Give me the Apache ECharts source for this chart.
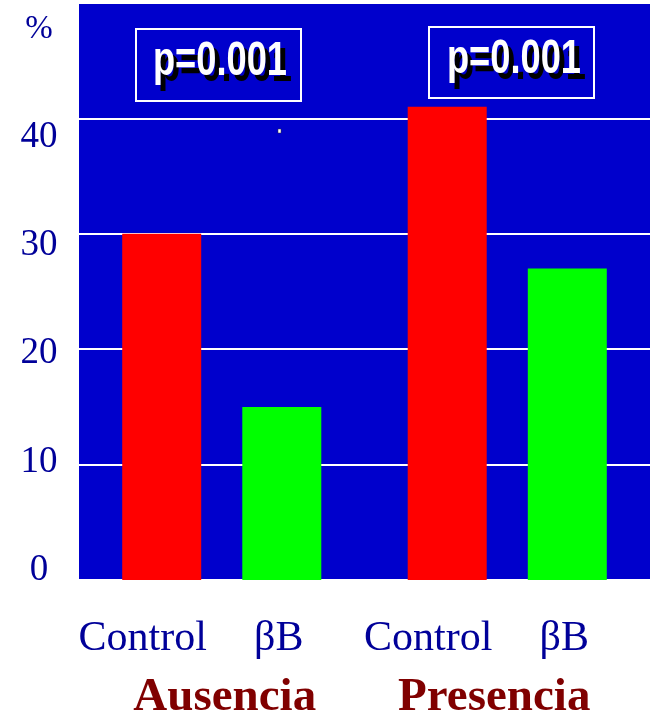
<!DOCTYPE html>
<html>
<head>
<meta charset="utf-8">
<style>
  html, body { margin: 0; padding: 0; background: #ffffff; overflow: hidden; }
  #chart { width: 650px; height: 715px; }
</style>
<script src="https://cdn.jsdelivr.net/npm/echarts@6/dist/echarts.min.js"></script>
</head>
<body>
<div id="chart"></div>
<script>
// Groups along the x axis and the two bars drawn inside each group
const groups = ['Ausencia', 'Presencia'];
const seriesNames = ['Control', 'βB'];
const controlValues = [30, 41];
const betaBlockerValues = [15, 27];
// Tick values of the value axis (the top one is shown as the unit sign)
const yTicks = [0, 10, 20, 30, 40, 50];
const unitLabel = '%';
// Significance annotations, one per group
const pLabels = ['p=0.001', 'p=0.001'];

const SERIF = '"Liberation Serif", "Times New Roman", Times, serif';
const SANS = '"Liberation Sans", Arial, Helvetica, sans-serif';
const LABEL_BLUE = '#000099';

const chart = echarts.init(document.getElementById('chart'), null, {
  renderer: 'canvas', width: 650, height: 715
});

const yMax = yTicks[yTicks.length - 1];
const yStep = yTicks[1] - yTicks[0];

// Framed annotation: white outline box, condensed bold white text with a hard black drop shadow
function pBox(text, x, y, w, h, tx, ty) {
  const textStyle = function (fill) {
    return {
      text: text,
      fill: fill,
      font: 'bold 49px ' + SANS,
      align: 'center',
      verticalAlign: 'middle'
    };
  };
  return {
    type: 'group',
    children: [
      {
        type: 'rect',
        shape: { x: x, y: y, width: w, height: h },
        style: { fill: null, stroke: '#ffffff', lineWidth: 2 }
      },
      { type: 'text', x: tx + 5, y: ty + 6, scaleX: 0.74, style: textStyle('#000000') },
      { type: 'text', x: tx, y: ty, scaleX: 0.74, style: textStyle('#ffffff') }
    ]
  };
}

const option = {
  animation: false,
  backgroundColor: '#ffffff',
  grid: [
    {
      left: 79, right: 0, top: 3, bottom: 135,
      outerBoundsMode: 'none', containLabel: false,
      show: true, backgroundColor: '#0000cc', borderWidth: 0
    },
    // companion grid that carries the tick labels of the value axis
    {
      left: 79, right: 0, top: 29, bottom: 145,
      outerBoundsMode: 'none', containLabel: false, show: false
    }
  ],
  xAxis: [
    {
      type: 'category',
      gridIndex: 0,
      data: groups,
      axisLine: { show: false },
      axisTick: { show: false },
      axisLabel: {
        margin: 94,
        formatter: function (v, i) { return i === 0 ? '{a|' + v + '}' : '{b|' + v + '}'; },
        rich: {
          a: { fontFamily: SERIF, fontWeight: 'bold', fontSize: 47, color: '#800000', padding: [0, 0, 0, 6] },
          b: { fontFamily: SERIF, fontWeight: 'bold', fontSize: 47, color: '#800000', padding: [0, 26, 0, 0] }
        }
      }
    },
    { type: 'value', gridIndex: 1, show: false, min: 0, max: 1 }
  ],
  yAxis: [
    {
      type: 'value',
      gridIndex: 0,
      min: 0, max: yMax, interval: yStep,
      axisLine: { show: false },
      axisTick: { show: false },
      axisLabel: { show: false },
      splitLine: { show: true, lineStyle: { color: '#ffffff', width: 2 } }
    },
    {
      type: 'value',
      gridIndex: 1,
      min: 0, max: yMax, interval: yStep,
      axisLine: { show: false },
      axisTick: { show: false },
      splitLine: { show: false },
      axisLabel: {
        show: true,
        margin: 40,
        align: 'center',
        formatter: function (v) { return v === yMax ? '{u|' + unitLabel + '}' : '{n|' + v + '}'; },
        rich: {
          n: { fontFamily: SERIF, fontSize: 37, color: LABEL_BLUE },
          u: { fontFamily: SERIF, fontSize: 33, color: LABEL_BLUE }
        }
      }
    }
  ],
  series: [
    {
      name: seriesNames[0],
      type: 'bar',
      xAxisIndex: 0, yAxisIndex: 0,
      data: controlValues,
      barWidth: 79,
      barGap: '52%',
      itemStyle: { color: '#ff0000' },
      label: {
        show: true,
        position: 'bottom',
        distance: 38,
        offset: [-19, 0],
        formatter: '{a}',
        fontFamily: SERIF,
        fontSize: 42,
        color: LABEL_BLUE
      }
    },
    {
      name: seriesNames[1],
      type: 'bar',
      xAxisIndex: 0, yAxisIndex: 0,
      data: betaBlockerValues,
      barWidth: 79,
      barGap: '52%',
      itemStyle: { color: '#00ff00' },
      label: {
        show: true,
        position: 'bottom',
        distance: 38,
        offset: [-3, 0],
        formatter: '{a}',
        fontFamily: SERIF,
        fontSize: 42,
        color: LABEL_BLUE
      }
    }
  ],
  graphic: [
    pBox(pLabels[0], 136, 29, 165, 72, 220, 61),
    pBox(pLabels[1], 429, 27, 165, 71, 514, 59),
    // small stray marker inside the plot
    { type: 'rect', shape: { x: 278, y: 129, width: 3, height: 4 }, style: { fill: '#ffffff', stroke: '#333333', lineWidth: 0.5 } }
  ]
};

chart.setOption(option);
</script>
</body>
</html>
